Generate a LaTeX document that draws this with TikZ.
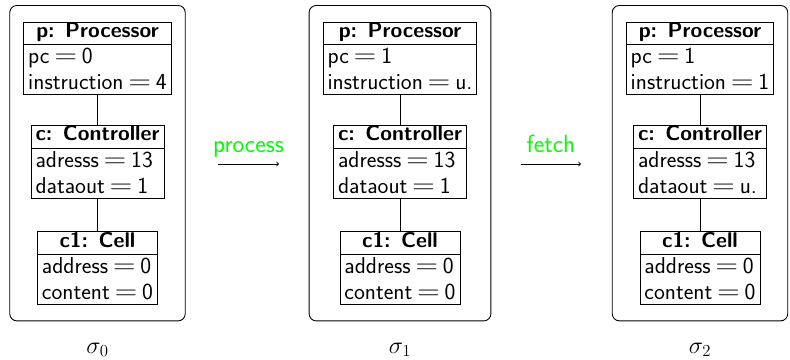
\RequirePackage{fix-cm}
\documentclass[tikz,border=0pt]{standalone}
\usepackage{graphicx}
\usetikzlibrary{shapes.multipart,fit,calc}
\newcommand\mainsize{\fontsize{23pt}{26pt}\selectfont}
\newcommand\titlesize{\fontsize{21.3pt}{26pt}\selectfont}
\newcommand\labsize{\fontsize{25pt}{30pt}\selectfont}
\newcommand\eqs{\hspace{5pt}\scalebox{1.35}[1.15]{$=$}\hspace{5pt}}
\newcommand\clstitle[1]{\rule[-6.9pt]{0pt}{20.8pt}{\titlesize\bfseries #1}}
\newcommand\clsattrs[2]{\vbox{\baselineskip=26pt\lineskiplimit=-20pt\hbox{\rule{0pt}{19pt}#1}\hbox{#2\rule[-4pt]{0pt}{0pt}}}}
\tikzset{
  cls/.style={rectangle split, rectangle split parts=2, draw, line width=0.9pt,
    inner xsep=4.5pt, inner ysep=0pt, rectangle split part align={center,left},
    anchor=north, font=\mainsize\sffamily},
  statebox/.style={draw, rounded corners=7pt, line width=0.9pt, inner xsep=13.5pt, inner ysep=16pt},
  link/.style={line width=0.9pt},
  trans/.style={->, line width=0.9pt},
  tlabel/.style={font=\labsize\sffamily, text=green, anchor=base},
  slabel/.style={anchor=base, font=\fontsize{24pt}{28pt}\selectfont},
}
\begin{document}
\begin{tikzpicture}[x=1pt,y=1pt]
\useasboundingbox (0,0) rectangle (790,-359);
% state 0
\node[cls] (p0) at (97.5,-21.5) {\clstitle{p: Processor}\nodepart{second}\clsattrs{pc\eqs 0}{instruction\eqs 4}};
\node[cls] (c0) at (97.5,-125) {\clstitle{c: Controller}\nodepart{second}\clsattrs{adresss\eqs 13}{dataout\eqs 1}};
\node[cls] (m0) at (97.5,-231) {\clstitle{c1: Cell}\nodepart{second}\clsattrs{address\eqs 0}{content\eqs 0}};
\draw[link] (p0.south) -- (c0.north);
\draw[link] (c0.south) -- (m0.north);
\node[statebox, fit=(p0)(c0)(m0)] (s0) {};
\node[slabel] (l0) at ([yshift=-32pt]s0.south) {$\sigma_0$};
% state 1
\node[cls] (p1) at (400,-21.5) {\clstitle{p: Processor}\nodepart{second}\clsattrs{pc\eqs 1}{instruction\eqs u.}};
\node[cls] (c1) at (400,-125) {\clstitle{c: Controller}\nodepart{second}\clsattrs{adresss\eqs 13}{dataout\eqs 1}};
\node[cls] (m1) at (400,-231) {\clstitle{c1: Cell}\nodepart{second}\clsattrs{address\eqs 0}{content\eqs 0}};
\draw[link] (p1.south) -- (c1.north);
\draw[link] (c1.south) -- (m1.north);
\node[statebox, fit=(p1)(c1)(m1)] (s1) {};
\node[slabel] (l1) at ([yshift=-32pt]s1.south) {$\sigma_1$};
% state 2
\node[cls] (p2) at (700,-21.5) {\clstitle{p: Processor}\nodepart{second}\clsattrs{pc\eqs 1}{instruction\eqs 1}};
\node[cls] (c2) at (700,-125) {\clstitle{c: Controller}\nodepart{second}\clsattrs{adresss\eqs 13}{dataout\eqs u.}};
\node[cls] (m2) at (700,-231) {\clstitle{c1: Cell}\nodepart{second}\clsattrs{address\eqs 0}{content\eqs 0}};
\draw[link] (p2.south) -- (c2.north);
\draw[link] (c2.south) -- (m2.north);
\node[statebox, fit=(p2)(c2)(m2)] (s2) {};
\node[slabel] (l2) at ([yshift=-32pt]s2.south) {$\sigma_2$};
% transitions
\coordinate (a0s) at (218,-164);
\coordinate (a0e) at (279,-164);
\draw[trans] (a0s) -- (a0e);
\node[tlabel] (t0) at (248.5,-152.5) {process};
\coordinate (a1s) at (521,-164);
\coordinate (a1e) at (581,-164);
\draw[trans] (a1s) -- (a1e);
\node[tlabel] (t1) at (551,-152.5) {fetch};
\end{tikzpicture}
\end{document}
